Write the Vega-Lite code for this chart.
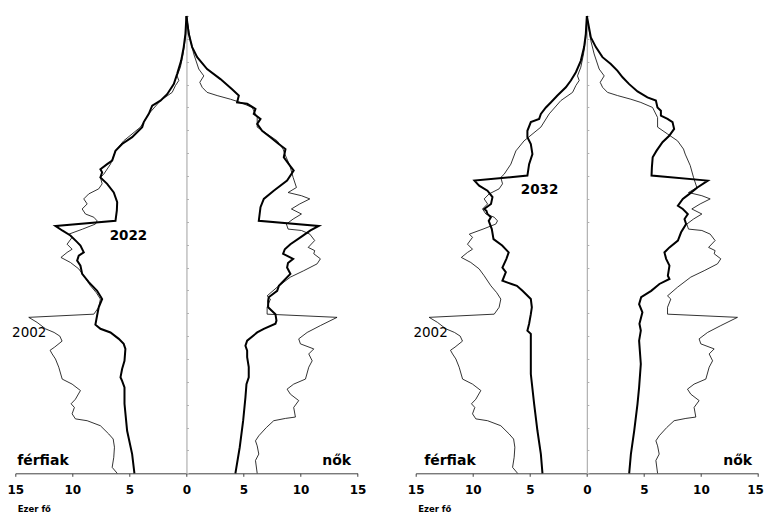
{
  "$schema": "https://vega.github.io/schema/vega-lite/v6.json",
  "background": "white",
  "padding": {"left": 6.3, "top": 12, "right": 0, "bottom": 0},
  "bounds": "flush",
  "spacing": 57.4,
  "config": {
    "view": {"stroke": null},
    "font": "DejaVu Sans",
    "line": {"color": "black"}
  },
  "datasets": {
    "d2002": [
      {"sex":"férfiak","age":0,"v":-6.07},{"sex":"férfiak","age":1.3,"v":-6.51},{"sex":"férfiak","age":3.5,"v":-6.37},{"sex":"férfiak","age":5.7,"v":-6.31},{"sex":"férfiak","age":7.5,"v":-6.42},{"sex":"férfiak","age":8.6,"v":-6.81},{"sex":"férfiak","age":10.4,"v":-7.54},{"sex":"férfiak","age":11.5,"v":-8.7},{"sex":"férfiak","age":11.9,"v":-9.73},{"sex":"férfiak","age":13.0,"v":-10.02},{"sex":"férfiak","age":14.4,"v":-9.82},{"sex":"férfiak","age":15.2,"v":-10.11},{"sex":"férfiak","age":16.2,"v":-9.73},{"sex":"férfiak","age":18.1,"v":-9.29},{"sex":"férfiak","age":19.5,"v":-10.02},{"sex":"férfiak","age":20.6,"v":-10.89},{"sex":"férfiak","age":23.2,"v":-11.19},{"sex":"férfiak","age":25.0,"v":-11.48},{"sex":"férfiak","age":26.1,"v":-11.77},{"sex":"férfiak","age":26.9,"v":-11.95},{"sex":"férfiak","age":27.6,"v":-11.55},{"sex":"férfiak","age":28.9,"v":-10.9},{"sex":"férfiak","age":30.0,"v":-11.1},{"sex":"férfiak","age":30.8,"v":-11.6},{"sex":"férfiak","age":31.6,"v":-12.36},{"sex":"férfiak","age":33.0,"v":-13.09},{"sex":"férfiak","age":34.1,"v":-13.82},{"sex":"férfiak","age":34.8,"v":-8.12},{"sex":"férfiak","age":36.3,"v":-7.69},{"sex":"férfiak","age":38.1,"v":-7.54},{"sex":"férfiak","age":39.5,"v":-7.9},{"sex":"férfiak","age":41.0,"v":-8.41},{"sex":"férfiak","age":43.2,"v":-9.0},{"sex":"férfiak","age":44.7,"v":-9.44},{"sex":"férfiak","age":46.1,"v":-10.17},{"sex":"férfiak","age":47.2,"v":-11.0},{"sex":"férfiak","age":48.3,"v":-10.46},{"sex":"férfiak","age":49.0,"v":-10.02},{"sex":"férfiak","age":50.1,"v":-10.46},{"sex":"férfiak","age":51.6,"v":-10.02},{"sex":"férfiak","age":52.3,"v":-10.3},{"sex":"férfiak","age":53.4,"v":-9.1},{"sex":"férfiak","age":54.5,"v":-7.98},{"sex":"férfiak","age":55.2,"v":-7.83},{"sex":"férfiak","age":56.0,"v":-8.12},{"sex":"férfiak","age":56.7,"v":-8.85},{"sex":"férfiak","age":57.8,"v":-9.14},{"sex":"férfiak","age":58.9,"v":-8.7},{"sex":"férfiak","age":60.0,"v":-9.0},{"sex":"férfiak","age":61.1,"v":-8.56},{"sex":"férfiak","age":62.2,"v":-7.69},{"sex":"férfiak","age":63.3,"v":-7.39},{"sex":"férfiak","age":64.7,"v":-7.54},{"sex":"férfiak","age":65.4,"v":-7.25},{"sex":"férfiak","age":67.6,"v":-6.66},{"sex":"férfiak","age":70.5,"v":-6.22},{"sex":"férfiak","age":72.7,"v":-5.5},{"sex":"férfiak","age":75.7,"v":-4.03},{"sex":"férfiak","age":78.6,"v":-3.3},{"sex":"férfiak","age":81.5,"v":-2.28},{"sex":"férfiak","age":83.3,"v":-1.25},{"sex":"férfiak","age":84.8,"v":-0.96},{"sex":"férfiak","age":85.9,"v":-0.67},{"sex":"férfiak","age":86.9,"v":-0.82},{"sex":"férfiak","age":88.8,"v":-0.53},{"sex":"férfiak","age":91.7,"v":-0.29},{"sex":"férfiak","age":95.3,"v":-0.09},{"sex":"férfiak","age":100,"v":0},
      {"sex":"nők","age":0,"v":6.2},{"sex":"nők","age":2.8,"v":6.05},{"sex":"nők","age":4.2,"v":6.34},{"sex":"nők","age":6.0,"v":6.2},{"sex":"nők","age":7.1,"v":6.05},{"sex":"nők","age":8.2,"v":6.34},{"sex":"nők","age":10.0,"v":7.0},{"sex":"nők","age":11.5,"v":7.65},{"sex":"nők","age":12.0,"v":8.68},{"sex":"nők","age":12.3,"v":9.55},{"sex":"nők","age":14.4,"v":9.4},{"sex":"nők","age":15.9,"v":9.84},{"sex":"nők","age":17.3,"v":9.11},{"sex":"nők","age":18.4,"v":8.82},{"sex":"nők","age":19.5,"v":9.4},{"sex":"nők","age":20.6,"v":10.43},{"sex":"nők","age":23.2,"v":10.72},{"sex":"nők","age":24.6,"v":11.02},{"sex":"nők","age":26.1,"v":10.72},{"sex":"nők","age":27.2,"v":11.16},{"sex":"nők","age":28.3,"v":9.99},{"sex":"nők","age":29.4,"v":9.84},{"sex":"nők","age":30.8,"v":10.58},{"sex":"nők","age":32.3,"v":11.74},{"sex":"nők","age":34.1,"v":13.2},{"sex":"nők","age":34.8,"v":7.07},{"sex":"nők","age":36.3,"v":7.07},{"sex":"nők","age":38.1,"v":7.36},{"sex":"nők","age":38.8,"v":7.07},{"sex":"nők","age":40.7,"v":7.95},{"sex":"nők","age":42.9,"v":9.11},{"sex":"nők","age":44.3,"v":10.28},{"sex":"nők","age":45.8,"v":11.45},{"sex":"nők","age":46.9,"v":11.74},{"sex":"nők","age":48.0,"v":11.16},{"sex":"nők","age":48.7,"v":11.24},{"sex":"nők","age":49.4,"v":10.67},{"sex":"nők","age":50.9,"v":11.24},{"sex":"nők","age":52.3,"v":10.81},{"sex":"nők","age":53.1,"v":10.08},{"sex":"nők","age":53.4,"v":8.91},{"sex":"nők","age":54.5,"v":8.76},{"sex":"nők","age":55.6,"v":9.35},{"sex":"nők","age":56.7,"v":10.08},{"sex":"nők","age":57.8,"v":9.2},{"sex":"nők","age":58.9,"v":9.93},{"sex":"nők","age":60.0,"v":10.81},{"sex":"nők","age":60.7,"v":10.08},{"sex":"nők","age":61.4,"v":8.91},{"sex":"nők","age":62.5,"v":9.64},{"sex":"nők","age":64.7,"v":9.35},{"sex":"nők","age":67.3,"v":9.06},{"sex":"nők","age":69.8,"v":8.62},{"sex":"nők","age":70.9,"v":8.47},{"sex":"nők","age":72.7,"v":7.95},{"sex":"nők","age":74.2,"v":7.07},{"sex":"nők","age":75.7,"v":6.2},{"sex":"nők","age":77.8,"v":6.2},{"sex":"nők","age":80.0,"v":5.76},{"sex":"nők","age":81.1,"v":4.73},{"sex":"nők","age":81.8,"v":3.86},{"sex":"nők","age":82.6,"v":2.69},{"sex":"nők","age":83.3,"v":1.81},{"sex":"nők","age":84.4,"v":1.38},{"sex":"nők","age":85.5,"v":1.17},{"sex":"nők","age":86.9,"v":1.52},{"sex":"nők","age":88.4,"v":1.08},{"sex":"nők","age":91.7,"v":0.64},{"sex":"nők","age":94.6,"v":0.35},{"sex":"nők","age":100,"v":0}
    ],
    "d2022": [
      {"sex":"férfiak","age":0,"v":-4.56},{"sex":"férfiak","age":4.2,"v":-4.76},{"sex":"férfiak","age":9.3,"v":-5.2},{"sex":"férfiak","age":15.2,"v":-5.43},{"sex":"férfiak","age":18.8,"v":-5.43},{"sex":"férfiak","age":20.2,"v":-5.64},{"sex":"férfiak","age":21.0,"v":-5.78},{"sex":"férfiak","age":22.8,"v":-5.64},{"sex":"férfiak","age":24.6,"v":-5.43},{"sex":"férfiak","age":27.2,"v":-5.35},{"sex":"férfiak","age":28.3,"v":-5.5},{"sex":"férfiak","age":29.4,"v":-5.93},{"sex":"férfiak","age":30.8,"v":-6.66},{"sex":"férfiak","age":31.6,"v":-7.54},{"sex":"férfiak","age":32.5,"v":-7.98},{"sex":"férfiak","age":34.5,"v":-7.83},{"sex":"férfiak","age":36.3,"v":-7.69},{"sex":"férfiak","age":38.1,"v":-7.39},{"sex":"férfiak","age":39.9,"v":-7.83},{"sex":"férfiak","age":41.8,"v":-8.56},{"sex":"férfiak","age":43.6,"v":-9.14},{"sex":"férfiak","age":45.4,"v":-9.29},{"sex":"férfiak","age":46.5,"v":-9.58},{"sex":"férfiak","age":47.6,"v":-9.44},{"sex":"férfiak","age":48.3,"v":-9.0},{"sex":"férfiak","age":49.8,"v":-9.29},{"sex":"férfiak","age":50.6,"v":-9.6},{"sex":"férfiak","age":52.0,"v":-10.17},{"sex":"férfiak","age":53.1,"v":-10.89},{"sex":"férfiak","age":54.1,"v":-11.48},{"sex":"férfiak","age":55.2,"v":-6.22},{"sex":"férfiak","age":57.5,"v":-6.1},{"sex":"férfiak","age":59.3,"v":-6.07},{"sex":"férfiak","age":61.4,"v":-6.37},{"sex":"férfiak","age":63.3,"v":-6.95},{"sex":"férfiak","age":64.7,"v":-7.54},{"sex":"férfiak","age":65.8,"v":-7.39},{"sex":"férfiak","age":66.5,"v":-7.54},{"sex":"férfiak","age":67.6,"v":-6.95},{"sex":"férfiak","age":68.4,"v":-6.51},{"sex":"férfiak","age":70.5,"v":-6.22},{"sex":"férfiak","age":72.0,"v":-5.64},{"sex":"férfiak","age":73.5,"v":-4.76},{"sex":"férfiak","age":75.7,"v":-3.88},{"sex":"férfiak","age":76.8,"v":-3.74},{"sex":"férfiak","age":78.6,"v":-3.3},{"sex":"férfiak","age":80.4,"v":-3.0},{"sex":"férfiak","age":81.5,"v":-2.28},{"sex":"férfiak","age":82.9,"v":-1.69},{"sex":"férfiak","age":85.1,"v":-1.11},{"sex":"férfiak","age":87.3,"v":-0.82},{"sex":"férfiak","age":90.2,"v":-0.47},{"sex":"férfiak","age":93.2,"v":-0.24},{"sex":"férfiak","age":96.1,"v":-0.09},{"sex":"férfiak","age":100,"v":0},
      {"sex":"nők","age":0,"v":4.29},{"sex":"nők","age":5.7,"v":4.67},{"sex":"nők","age":11.5,"v":4.97},{"sex":"nők","age":16.6,"v":5.17},{"sex":"nők","age":19.5,"v":5.26},{"sex":"nők","age":21.0,"v":5.46},{"sex":"nők","age":23.2,"v":5.46},{"sex":"nők","age":25.4,"v":5.32},{"sex":"nők","age":26.8,"v":5.32},{"sex":"nők","age":27.9,"v":5.17},{"sex":"nők","age":29.0,"v":5.32},{"sex":"nők","age":30.8,"v":6.2},{"sex":"nők","age":31.6,"v":6.78},{"sex":"nők","age":32.7,"v":7.8},{"sex":"nők","age":33.4,"v":7.89},{"sex":"nők","age":34.8,"v":7.8},{"sex":"nők","age":36.3,"v":7.16},{"sex":"nők","age":37.7,"v":7.16},{"sex":"nők","age":38.5,"v":7.21},{"sex":"nők","age":39.9,"v":7.95},{"sex":"nők","age":41.0,"v":8.1},{"sex":"nők","age":42.1,"v":8.53},{"sex":"nők","age":43.6,"v":9.11},{"sex":"nők","age":45.0,"v":8.82},{"sex":"nők","age":46.0,"v":8.9},{"sex":"nők","age":46.9,"v":9.35},{"sex":"nők","age":48.0,"v":8.47},{"sex":"nők","age":49.0,"v":8.62},{"sex":"nők","age":50.1,"v":9.11},{"sex":"nők","age":51.6,"v":9.99},{"sex":"nők","age":53.1,"v":10.87},{"sex":"nők","age":54.1,"v":11.6},{"sex":"nők","age":55.2,"v":6.34},{"sex":"nők","age":58.2,"v":6.49},{"sex":"nők","age":60.0,"v":6.78},{"sex":"nők","age":61.8,"v":7.65},{"sex":"nők","age":64.0,"v":8.82},{"sex":"nők","age":66.2,"v":9.4},{"sex":"nők","age":67.6,"v":8.97},{"sex":"nők","age":69.1,"v":8.53},{"sex":"nők","age":70.9,"v":8.68},{"sex":"nők","age":72.0,"v":8.09},{"sex":"nők","age":73.5,"v":7.36},{"sex":"nők","age":74.9,"v":6.63},{"sex":"nők","age":76.4,"v":6.2},{"sex":"nők","age":77.5,"v":6.49},{"sex":"nők","age":78.6,"v":5.9},{"sex":"nők","age":79.7,"v":6.05},{"sex":"nők","age":80.8,"v":5.32},{"sex":"nők","age":81.1,"v":4.44},{"sex":"nők","age":82.6,"v":4.59},{"sex":"nők","age":84.0,"v":4.0},{"sex":"nők","age":86.2,"v":2.98},{"sex":"nők","age":88.4,"v":1.81},{"sex":"nők","age":91.0,"v":0.94},{"sex":"nők","age":93.2,"v":0.5},{"sex":"nők","age":96.1,"v":0.2},{"sex":"nők","age":100,"v":0}
    ],
    "d2032": [
      {"sex":"férfiak","age":0,"v":-3.89},{"sex":"férfiak","age":4.2,"v":-4.03},{"sex":"férfiak","age":9.3,"v":-4.33},{"sex":"férfiak","age":15.2,"v":-4.62},{"sex":"férfiak","age":21.7,"v":-4.91},{"sex":"férfiak","age":26.1,"v":-4.91},{"sex":"férfiak","age":30.5,"v":-4.91},{"sex":"férfiak","age":31.2,"v":-5.21},{"sex":"férfiak","age":32.7,"v":-5.06},{"sex":"férfiak","age":34.8,"v":-4.91},{"sex":"férfiak","age":36.3,"v":-4.82},{"sex":"férfiak","age":38.1,"v":-4.91},{"sex":"férfiak","age":39.9,"v":-5.64},{"sex":"férfiak","age":41.0,"v":-6.13},{"sex":"férfiak","age":41.4,"v":-6.6},{"sex":"férfiak","age":42.1,"v":-7.4},{"sex":"férfiak","age":43.6,"v":-7.16},{"sex":"férfiak","age":44.0,"v":-7.1},{"sex":"férfiak","age":45.0,"v":-7.4},{"sex":"férfiak","age":46.9,"v":-7.05},{"sex":"férfiak","age":48.3,"v":-6.85},{"sex":"férfiak","age":49.8,"v":-7.42},{"sex":"férfiak","age":51.2,"v":-8.18},{"sex":"férfiak","age":53.4,"v":-8.33},{"sex":"férfiak","age":55.2,"v":-8.6},{"sex":"férfiak","age":56.0,"v":-8.41},{"sex":"férfiak","age":56.7,"v":-8.71},{"sex":"férfiak","age":57.4,"v":-8.8},{"sex":"férfiak","age":57.8,"v":-9.0},{"sex":"férfiak","age":58.9,"v":-8.4},{"sex":"férfiak","age":60.4,"v":-8.27},{"sex":"férfiak","age":61.8,"v":-8.71},{"sex":"férfiak","age":62.9,"v":-9.44},{"sex":"férfiak","age":64.0,"v":-9.85},{"sex":"férfiak","age":65.1,"v":-5.21},{"sex":"férfiak","age":67.6,"v":-5.06},{"sex":"férfiak","age":69.8,"v":-4.77},{"sex":"férfiak","age":72.0,"v":-4.91},{"sex":"férfiak","age":73.5,"v":-5.21},{"sex":"férfiak","age":74.9,"v":-5.21},{"sex":"férfiak","age":76.8,"v":-4.91},{"sex":"férfiak","age":77.5,"v":-4.18},{"sex":"férfiak","age":78.6,"v":-4.03},{"sex":"férfiak","age":80.0,"v":-3.59},{"sex":"férfiak","age":81.1,"v":-3.16},{"sex":"férfiak","age":82.6,"v":-2.58},{"sex":"férfiak","age":84.4,"v":-1.84},{"sex":"férfiak","age":85.9,"v":-1.4},{"sex":"férfiak","age":87.7,"v":-0.96},{"sex":"férfiak","age":90.2,"v":-0.53},{"sex":"férfiak","age":93.2,"v":-0.24},{"sex":"férfiak","age":96.1,"v":-0.09},{"sex":"férfiak","age":100,"v":0},
      {"sex":"nők","age":0,"v":3.71},{"sex":"nők","age":4.2,"v":3.86},{"sex":"nők","age":9.3,"v":4.15},{"sex":"nők","age":15.2,"v":4.44},{"sex":"nők","age":18.8,"v":4.58},{"sex":"nők","age":23.9,"v":4.73},{"sex":"nők","age":29.0,"v":4.58},{"sex":"nők","age":31.2,"v":4.73},{"sex":"nők","age":32.7,"v":4.61},{"sex":"nők","age":35.2,"v":4.87},{"sex":"nők","age":37.0,"v":4.58},{"sex":"nők","age":38.5,"v":4.76},{"sex":"nők","age":39.9,"v":5.64},{"sex":"nők","age":41.4,"v":6.36},{"sex":"nők","age":42.5,"v":7.24},{"sex":"nők","age":43.2,"v":7.1},{"sex":"nők","age":45.4,"v":7.24},{"sex":"nők","age":46.9,"v":6.95},{"sex":"nők","age":48.3,"v":6.8},{"sex":"nők","age":49.4,"v":7.24},{"sex":"nők","age":50.9,"v":7.98},{"sex":"nők","age":52.7,"v":8.26},{"sex":"nők","age":54.5,"v":8.7},{"sex":"nők","age":55.6,"v":8.56},{"sex":"nők","age":56.7,"v":8.85},{"sex":"nők","age":57.8,"v":8.41},{"sex":"nők","age":58.5,"v":7.98},{"sex":"nők","age":60.0,"v":8.41},{"sex":"nők","age":61.1,"v":8.99},{"sex":"nők","age":62.5,"v":9.69},{"sex":"nők","age":64.0,"v":10.6},{"sex":"nők","age":65.1,"v":5.67},{"sex":"nők","age":66.9,"v":5.7},{"sex":"nők","age":69.1,"v":5.77},{"sex":"nők","age":70.5,"v":6.1},{"sex":"nők","age":72.4,"v":6.63},{"sex":"nők","age":73.8,"v":7.22},{"sex":"nők","age":75.3,"v":7.65},{"sex":"nők","age":76.8,"v":7.51},{"sex":"nők","age":77.5,"v":7.07},{"sex":"nők","age":78.2,"v":6.49},{"sex":"nők","age":79.3,"v":6.49},{"sex":"nők","age":80.0,"v":6.19},{"sex":"nők","age":81.5,"v":6.05},{"sex":"nők","age":82.2,"v":5.31},{"sex":"nők","age":83.5,"v":4.44},{"sex":"nők","age":85.1,"v":3.71},{"sex":"nők","age":86.6,"v":3.13},{"sex":"nők","age":88.0,"v":2.69},{"sex":"nők","age":89.5,"v":2.1},{"sex":"nők","age":91.0,"v":1.37},{"sex":"nők","age":93.2,"v":0.79},{"sex":"nők","age":95.3,"v":0.35},{"sex":"nők","age":100,"v":0}
    ]
  },
  "hconcat": [
    {
      "width": 342.3,
      "height": 457.3,
      "encoding": {
        "x": {"field": "v", "type": "quantitative", "scale": {"domain": [-15, 15], "nice": false, "zero": false},
          "axis": {"values": [-15,-10,-5,0,5,10,15], "labelExpr": "abs(datum.value)", "labelFlush": false, "labelOverlap": false, "grid": false,
            "labelFont": "DejaVu Sans", "labelFontWeight": "bold", "labelFontSize": 12, "labelColor": "black", "labelPadding": 8,
            "domainColor": "#404040", "tickColor": "#404040", "tickSize": 3, "domainWidth": 1,
            "title": "Ezer fő", "titleFont": "DejaVu Sans", "titleFontSize": 8.5, "titleFontWeight": "bold", "titleColor": "black",
            "titleAnchor": "start", "titleAlign": "left", "titleX": 2, "titleY": 35, "titleBaseline": "middle"}},
        "y": {"field": "age", "type": "quantitative", "scale": {"domain": [0, 100], "nice": false, "zero": false},
          "axis": {"orient": "right", "offset": -171.15, "labels": false, "title": null, "grid": false, "values": [0,5,10,15,20,25,30,35,40,45,50,55,60,65,70,75,80,85,90,95,100],
            "domainColor": "#b0b0b0", "tickColor": "#b0b0b0", "tickSize": 2, "domainWidth": 1.2}}
      },
      "layer": [
        {"data": {"name": "d2002"}, "mark": {"type": "line", "color": "black", "strokeWidth": 0.8},
          "encoding": {"detail": {"field": "sex"}, "order": {"field": "age", "type": "quantitative"}}},
        {"data": {"name": "d2022"}, "mark": {"type": "line", "color": "black", "strokeWidth": 2},
          "encoding": {"detail": {"field": "sex"}, "order": {"field": "age", "type": "quantitative"}}},
        {"data": {"values": [{"t": "férfiak", "v": -14.84, "age": 2.6}]},
          "mark": {"type": "text", "align": "left", "baseline": "middle", "fontSize": 14, "fontWeight": "bold", "font": "DejaVu Sans", "color": "black"},
          "encoding": {"text": {"field": "t"}}},
        {"data": {"values": [{"t": "nők", "v": 14.43, "age": 2.6}]},
          "mark": {"type": "text", "align": "right", "baseline": "middle", "fontSize": 14, "fontWeight": "bold", "font": "DejaVu Sans", "color": "black"},
          "encoding": {"text": {"field": "t"}}},
        {"data": {"values": [{"t": "2002", "v": -15.28, "age": 30.6}]},
          "mark": {"type": "text", "align": "left", "baseline": "middle", "fontSize": 13.5, "font": "DejaVu Sans", "color": "black"},
          "encoding": {"text": {"field": "t"}}},
        {"data": {"values": [{"t": "2022", "v": -5.08, "age": 52.0}]},
          "mark": {"type": "text", "align": "center", "baseline": "middle", "fontSize": 13.5, "fontWeight": "bold", "font": "DejaVu Sans", "color": "black"},
          "encoding": {"text": {"field": "t"}}}
      ]
    },
    {
      "width": 342.3,
      "height": 457.3,
      "encoding": {
        "x": {"field": "v", "type": "quantitative", "scale": {"domain": [-15, 15], "nice": false, "zero": false},
          "axis": {"values": [-15,-10,-5,0,5,10,15], "labelExpr": "abs(datum.value)", "labelFlush": false, "labelOverlap": false, "grid": false,
            "labelOffset": {"condition": {"test": "datum.value == 15", "value": -3}, "value": 0},
            "labelFont": "DejaVu Sans", "labelFontWeight": "bold", "labelFontSize": 12, "labelColor": "black", "labelPadding": 8,
            "domainColor": "#404040", "tickColor": "#404040", "tickSize": 3, "domainWidth": 1,
            "title": "Ezer fő", "titleFont": "DejaVu Sans", "titleFontSize": 8.5, "titleFontWeight": "bold", "titleColor": "black",
            "titleAnchor": "start", "titleAlign": "left", "titleX": 2, "titleY": 35, "titleBaseline": "middle"}},
        "y": {"field": "age", "type": "quantitative", "scale": {"domain": [0, 100], "nice": false, "zero": false},
          "axis": {"orient": "right", "offset": -171.15, "labels": false, "title": null, "grid": false, "values": [0,5,10,15,20,25,30,35,40,45,50,55,60,65,70,75,80,85,90,95,100],
            "domainColor": "#b0b0b0", "tickColor": "#b0b0b0", "tickSize": 2, "domainWidth": 1.2}}
      },
      "layer": [
        {"data": {"name": "d2002"}, "mark": {"type": "line", "color": "black", "strokeWidth": 0.8},
          "encoding": {"detail": {"field": "sex"}, "order": {"field": "age", "type": "quantitative"}}},
        {"data": {"name": "d2032"}, "mark": {"type": "line", "color": "black", "strokeWidth": 2},
          "encoding": {"detail": {"field": "sex"}, "order": {"field": "age", "type": "quantitative"}}},
        {"data": {"values": [{"t": "férfiak", "v": -14.26, "age": 2.6}]},
          "mark": {"type": "text", "align": "left", "baseline": "middle", "fontSize": 14, "fontWeight": "bold", "font": "DejaVu Sans", "color": "black"},
          "encoding": {"text": {"field": "t"}}},
        {"data": {"values": [{"t": "nők", "v": 14.49, "age": 2.6}]},
          "mark": {"type": "text", "align": "right", "baseline": "middle", "fontSize": 14, "fontWeight": "bold", "font": "DejaVu Sans", "color": "black"},
          "encoding": {"text": {"field": "t"}}},
        {"data": {"values": [{"t": "2002", "v": -15.2, "age": 30.6}]},
          "mark": {"type": "text", "align": "left", "baseline": "middle", "fontSize": 13.5, "font": "DejaVu Sans", "color": "black"},
          "encoding": {"text": {"field": "t"}}},
        {"data": {"values": [{"t": "2032", "v": -4.14, "age": 62.0}]},
          "mark": {"type": "text", "align": "center", "baseline": "middle", "fontSize": 13.5, "fontWeight": "bold", "font": "DejaVu Sans", "color": "black"},
          "encoding": {"text": {"field": "t"}}}
      ]
    }
  ]
}
